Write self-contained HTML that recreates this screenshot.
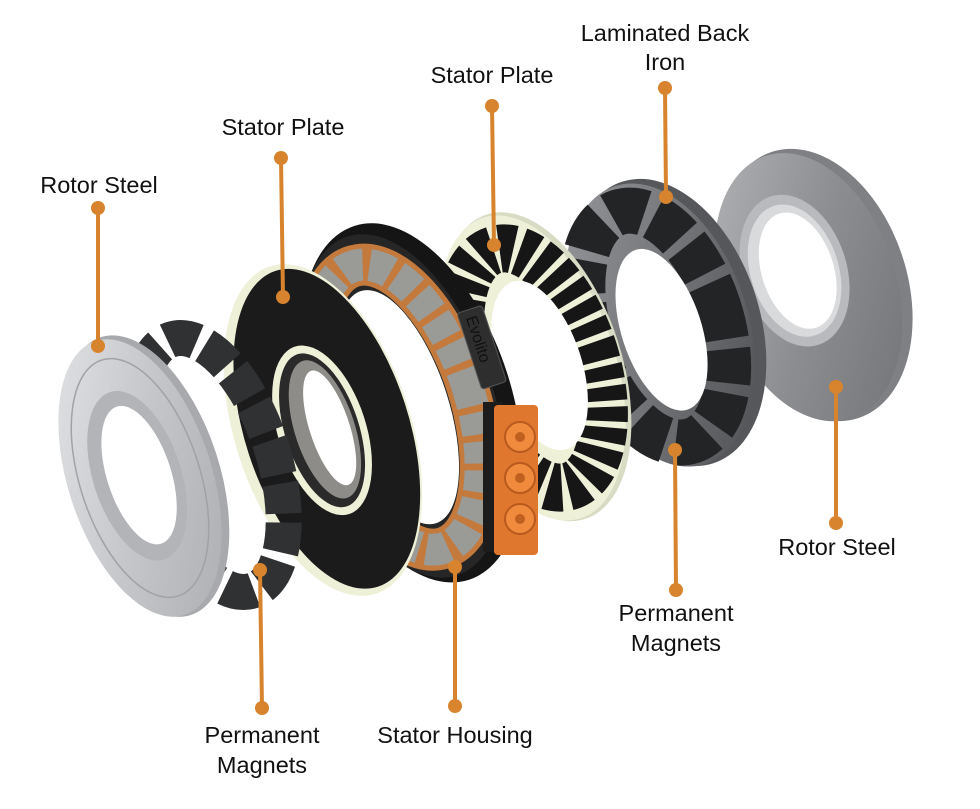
<!DOCTYPE html>
<html><head><meta charset="utf-8"><style>
html,body{margin:0;padding:0;background:#fff;width:980px;height:809px;overflow:hidden}
svg{display:block}
text{font-family:"Liberation Sans",sans-serif;font-size:23.5px;fill:#111}
</style></head><body>
<svg width="980" height="809" viewBox="0 0 980 809" xmlns="http://www.w3.org/2000/svg">
<defs>
<linearGradient id="steelR" x1="0" y1="0" x2="1" y2="1">
<stop offset="0" stop-color="#b4b6b8"/><stop offset="0.5" stop-color="#8c8e91"/><stop offset="1" stop-color="#6f7174"/></linearGradient>
<linearGradient id="steelL" x1="0" y1="0" x2="1" y2="1">
<stop offset="0" stop-color="#e4e6e8"/><stop offset="0.5" stop-color="#c4c6c9"/><stop offset="1" stop-color="#a9abae"/></linearGradient>
<linearGradient id="iron" x1="0" y1="0" x2="1" y2="1">
<stop offset="0" stop-color="#9a9c9f"/><stop offset="1" stop-color="#4a4c4f"/></linearGradient>
</defs>

<g transform="rotate(-18 815 285)">
<ellipse cx="815" cy="285" rx="92" ry="140" fill="#7e8083"/>
<ellipse cx="808" cy="285" rx="88" ry="138" fill="url(#steelR)"/>
<ellipse cx="800" cy="265" rx="52" ry="78" fill="#b8babd"/>
<ellipse cx="800" cy="265" rx="44" ry="68" fill="#d9dadc"/>
<ellipse cx="803" cy="266" rx="36" ry="60" fill="#fff"/>
</g>

<g transform="rotate(-18 660 325)">
<ellipse cx="668" cy="325" rx="92" ry="148" fill="#55575a"/>
<ellipse cx="660" cy="325" rx="88" ry="146" fill="url(#iron)"/>
<ellipse cx="655" cy="325" rx="66" ry="120" fill="none" stroke="#222426" stroke-width="46" stroke-dasharray="34 10"/>
<ellipse cx="660" cy="330" rx="40" ry="84" fill="#fff"/>
</g>

<g transform="rotate(-18 532 368)">
<ellipse cx="536" cy="368" rx="86" ry="160" fill="#d9dcc4"/>
<ellipse cx="532" cy="368" rx="84" ry="158" fill="#eef0d8"/>
<ellipse cx="532" cy="368" rx="64" ry="124" fill="none" stroke="#161616" stroke-width="48" stroke-dasharray="14 6"/>
<ellipse cx="540" cy="368" rx="42" ry="88" fill="#fff"/>
</g>

<g transform="rotate(-18 405 405)">
<ellipse cx="412" cy="405" rx="100" ry="186" fill="#151515"/>
<ellipse cx="402" cy="405" rx="92" ry="178" fill="#262626"/>
<ellipse cx="398" cy="405" rx="72" ry="148" fill="none" stroke="#c47a3d" stroke-width="42"/>
<ellipse cx="398" cy="405" rx="72" ry="148" fill="none" stroke="#9a9a96" stroke-width="32" stroke-dasharray="22 7"/>
<ellipse cx="398" cy="405" rx="50" ry="122" fill="#fff"/>
</g>
<g transform="rotate(-18 490 350)">
<rect x="470" y="305" width="26" height="80" rx="3" fill="#2e2e2e" stroke="#555" stroke-width="1"/>
<text x="0" y="0" transform="translate(477 312) rotate(90)" style="font-size:16px;fill:#111">Evolito</text>
</g>
<rect x="483" y="402" width="20" height="150" fill="#1c1c1c"/>
<rect x="494" y="405" width="44" height="150" rx="4" fill="#e0772f"/>
<circle cx="520" cy="437" r="15" fill="#f08a3d" stroke="#b85a1e" stroke-width="2"/>
<circle cx="520" cy="478" r="15" fill="#f08a3d" stroke="#b85a1e" stroke-width="2"/>
<circle cx="520" cy="519" r="15" fill="#f08a3d" stroke="#b85a1e" stroke-width="2"/>
<circle cx="520" cy="437" r="5" fill="#c06020"/>
<circle cx="520" cy="478" r="5" fill="#c06020"/>
<circle cx="520" cy="519" r="5" fill="#c06020"/>

<g transform="rotate(-18 323 430)">
<ellipse cx="323" cy="430" rx="88" ry="172" fill="#eef0d8"/>
<ellipse cx="327" cy="430" rx="82" ry="166" fill="#1b1b1c"/>
<ellipse cx="322" cy="430" rx="44" ry="88" fill="#eef0d8"/>
<ellipse cx="322" cy="430" rx="37" ry="80" fill="#2a2a2a"/>
<ellipse cx="325" cy="430" rx="30" ry="72" fill="#8e8c88"/>
<ellipse cx="330" cy="430" rx="20" ry="60" fill="#fff"/>
</g>

<g transform="rotate(-18 212 465)">
<ellipse cx="212" cy="465" rx="62" ry="132" fill="none" stroke="#2f3133" stroke-width="36" stroke-dasharray="30 9"/>
</g>

<g transform="rotate(-18 140 478)">
<ellipse cx="146" cy="478" rx="74" ry="146" fill="#a7a9ac"/>
<ellipse cx="140" cy="478" rx="72" ry="144" fill="url(#steelL)"/>
<ellipse cx="140" cy="478" rx="60" ry="124" fill="none" stroke="#a0a2a5" stroke-width="1.5"/>
<ellipse cx="138" cy="475" rx="44" ry="88" fill="#b2b4b7"/>
<ellipse cx="140" cy="475" rx="32" ry="72" fill="#fff"/>
</g>

<g stroke="#d8842e" stroke-width="4" fill="#d8842e">
<line x1="98" y1="208" x2="98" y2="346"/><circle cx="98" cy="208" r="7" stroke="none"/><circle cx="98" cy="346" r="7" stroke="none"/>
<line x1="281" y1="158" x2="283" y2="297"/><circle cx="281" cy="158" r="7" stroke="none"/><circle cx="283" cy="297" r="7" stroke="none"/>
<line x1="492" y1="106" x2="494" y2="245"/><circle cx="492" cy="106" r="7" stroke="none"/><circle cx="494" cy="245" r="7" stroke="none"/>
<line x1="665" y1="88" x2="666" y2="197"/><circle cx="665" cy="88" r="7" stroke="none"/><circle cx="666" cy="197" r="7" stroke="none"/>
<line x1="836" y1="387" x2="836" y2="523"/><circle cx="836" cy="387" r="7" stroke="none"/><circle cx="836" cy="523" r="7" stroke="none"/>
<line x1="675" y1="450" x2="676" y2="590"/><circle cx="675" cy="450" r="7" stroke="none"/><circle cx="676" cy="590" r="7" stroke="none"/>
<line x1="260" y1="570" x2="262" y2="708"/><circle cx="260" cy="570" r="7" stroke="none"/><circle cx="262" cy="708" r="7" stroke="none"/>
<line x1="455" y1="567" x2="455" y2="706"/><circle cx="455" cy="567" r="7" stroke="none"/><circle cx="455" cy="706" r="7" stroke="none"/>
</g>

<text x="99" y="193" text-anchor="middle">Rotor Steel</text>
<text x="283" y="135" text-anchor="middle">Stator Plate</text>
<text x="492" y="83" text-anchor="middle">Stator Plate</text>
<text x="665" y="41" text-anchor="middle">Laminated Back</text>
<text x="665" y="70" text-anchor="middle">Iron</text>
<text x="837" y="555" text-anchor="middle">Rotor Steel</text>
<text x="676" y="621" text-anchor="middle">Permanent</text>
<text x="676" y="651" text-anchor="middle">Magnets</text>
<text x="262" y="743" text-anchor="middle">Permanent</text>
<text x="262" y="773" text-anchor="middle">Magnets</text>
<text x="455" y="743" text-anchor="middle">Stator Housing</text>
</svg>
</body></html>
